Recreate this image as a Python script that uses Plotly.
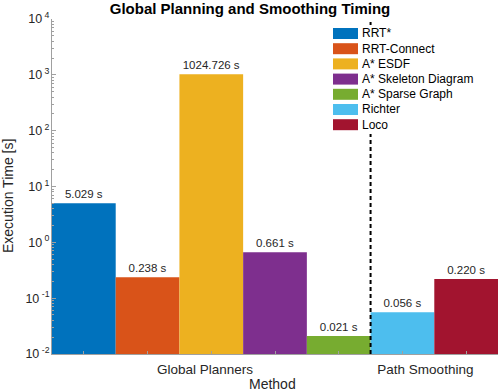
import plotly.graph_objects as go

methods = ["RRT*", "RRT-Connect", "A* ESDF", "A* Skeleton Diagram", "A* Sparse Graph", "Richter", "Loco"]
times = [5.029, 0.238, 1024.726, 0.661, 0.021, 0.056, 0.220]
colors = ["#0072BD", "#D95319", "#EDB120", "#7E2F8E", "#77AC30", "#4DBEEE", "#A2142F"]
group_labels = ["Global Planners", "Path Smoothing"]
group_pos = [1.9, 5.36]
divider_x = 4.5
ytick_vals = [0.01, 0.1, 1, 10, 100, 1000, 10000]
ytick_text = ["10<sup> -2</sup>", "10<sup> -1</sup>", "10<sup> 0</sup>", "10<sup> 1</sup>",
              "10<sup> 2</sup>", "10<sup> 3</sup>", "10<sup> 4</sup>"]

FONT = "Liberation Sans, Arial, sans-serif"
W, H = 498, 391
L, R, T, B = 52, 498, 19, 354


def px(x):
    return (x - L) / (R - L)


def py(y):
    return (B - y) / (B - T)


fig = go.Figure()
for i, (m, t, c) in enumerate(zip(methods, times, colors)):
    fig.add_trace(go.Bar(
        x=[i], y=[t], name=m, width=1,
        marker=dict(color=c, line=dict(width=0)),
        text=[f"{t:.3f} s"], textposition="outside",
        textfont=dict(size=11.5, color="#262626", family=FONT),
        cliponaxis=False, showlegend=False,
    ))

fig.add_trace(go.Scatter(
    x=[divider_x, divider_x], y=[0.01, 8800], mode="lines",
    line=dict(color="black", width=2, dash="4px,3px"),
    showlegend=False, hoverinfo="skip",
))

shapes = [dict(type="rect", xref="paper", yref="paper", x0=px(329), x1=px(477),
               y0=py(134), y1=py(26), fillcolor="white", line=dict(width=0), layer="above")]
annotations = []
for k, (m, c) in enumerate(zip(methods, colors)):
    cy = 33.5 + k * 15.2
    shapes.append(dict(type="rect", xref="paper", yref="paper", x0=px(333), x1=px(358),
                       y0=py(cy + 5.5), y1=py(cy - 5.5), fillcolor=c,
                       line=dict(width=0), layer="above"))
    annotations.append(dict(text=m, xref="paper", yref="paper", x=px(360), y=py(cy),
                            xanchor="left", yanchor="middle", showarrow=False,
                            font=dict(size=12, color="black", family=FONT)))

annotations.append(dict(text="Method", xref="paper", yref="paper", x=px(272), y=py(384),
                        xanchor="center", yanchor="middle", showarrow=False,
                        font=dict(size=14, color="#262626", family=FONT)))
annotations.append(dict(text="Execution Time [s]", xref="paper", yref="paper", x=px(8), y=py(196),
                        xanchor="center", yanchor="middle", showarrow=False, textangle=-90,
                        font=dict(size=14, color="#262626", family=FONT)))

fig.update_layout(
    width=W, height=H,
    margin=dict(l=L, r=W - R, t=T, b=H - B, autoexpand=False),
    plot_bgcolor="white", paper_bgcolor="white",
    barmode="overlay",
    font=dict(family=FONT, size=12, color="#262626"),
    title=dict(text="<b>Global Planning and Smoothing Timing</b>", x=0.502, xanchor="center",
               xref="container", y=1 - 9 / H, yanchor="middle", yref="container",
               font=dict(size=15, color="black", family=FONT)),
    showlegend=False,
    shapes=shapes,
    annotations=annotations,
)
fig.update_xaxes(
    range=[-0.5, 6.5], tickmode="array", tickvals=group_pos, ticktext=group_labels,
    ticks="", showline=True, linecolor="#a0a0a0", linewidth=1, showgrid=False, zeroline=False,
    automargin=False, ticklabelstandoff=3,
    tickfont=dict(size=13.5, color="#262626"),
    minor=dict(tickvals=list(range(7)), ticks="inside", ticklen=3, tickcolor="#a0a0a0"),
)
fig.update_yaxes(
    type="log", range=[-2, 4], tickmode="array", tickvals=ytick_vals, ticktext=ytick_text,
    ticks="inside", ticklen=4, tickcolor="#a0a0a0",
    showline=True, linecolor="#a0a0a0", linewidth=1, showgrid=False, zeroline=False,
    automargin=False, ticklabelstandoff=-1,
    tickfont=dict(size=12.5, color="#262626"),
    minor=dict(ticks="inside", ticklen=2, tickcolor="#a0a0a0", dtick="D1"),
)

fig.write_html("out.html", config={"displayModeBar": False, "staticPlot": True},
               post_script="document.body.style.margin='0px';document.body.style.overflow='hidden';")
